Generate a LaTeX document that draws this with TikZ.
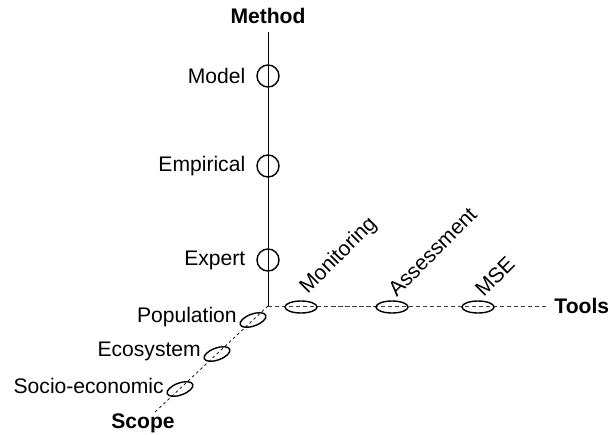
\documentclass[tikz,border=0pt]{standalone}
\usepackage{fontspec}
\setmainfont{Liberation Sans}
\usetikzlibrary{positioning,shapes.geometric}

\tikzset{
  lab/.style={font=\fontsize{15}{17}\selectfont, inner sep=0pt},
  axlab/.style={font=\fontsize{15}{17}\selectfont\bfseries, inner sep=0pt},
  methodmark/.style={draw, circle, minimum size=0.55cm, inner sep=0pt, line width=1pt},
  toolmark/.style={draw, ellipse, minimum width=0.8cm, minimum height=0.3cm, inner sep=0pt, line width=1pt},
  scopemark/.style={draw, ellipse, minimum width=0.68cm, minimum height=0.3cm, inner sep=0pt, line width=1pt, rotate=20},
}

\begin{document}
\begin{tikzpicture}[x=0.025cm, y=-0.025cm]
  \useasboundingbox (0,0) rectangle (610,434);

  % axis ends
  \coordinate (O) at (268,306);
  \coordinate (mtop) at (268,32);
  \coordinate (tend) at (547,306);
  \coordinate (send) at (155,412);

  % three axes
  \draw[line width=0.6pt] (O) -- (mtop);
  \draw[line width=0.5pt, densely dashed, black!75] (O) -- (tend);
  \draw[line width=0.5pt, dash pattern=on 2pt off 2pt] (O) -- (send);

  \node[axlab, above=0.2cm of mtop] (method) {Method};
  \node[axlab, right=0.18cm of tend] (tools) {Tools};
  \node[axlab] (scope) at (143,423) {Scope};

  % Method: circles on the vertical axis
  \foreach \y/\t in {76/Model,166/Empirical,260/Expert} {
    \node[methodmark] (m\t) at (268,\y) {};
    \node[lab, left=0.27cm of m\t] (l\t) {\t};
  }

  % Tools: ellipses on the horizontal axis, slanted labels
  \foreach \x/\lx/\t in {301/311/Monitoring,392/397/Assessment,478/484/MSE} {
    \node[toolmark] (t\t) at (\x,307) {};
    \node[lab, rotate=45, anchor=south west] (l\t) at (\lx,298) {\t};
  }

  % Scope: tilted ellipses on the receding axis
  \foreach \x/\y/\t [count=\i] in {253/320/Population,217/354/Ecosystem,180/389/Socio-economic} {
    \node[scopemark] (s\i) at (\x,\y) {};
    \node[lab, anchor=east] (ls\i) at (\x-16,\y-3) {\t};
  }
\end{tikzpicture}
\end{document}
